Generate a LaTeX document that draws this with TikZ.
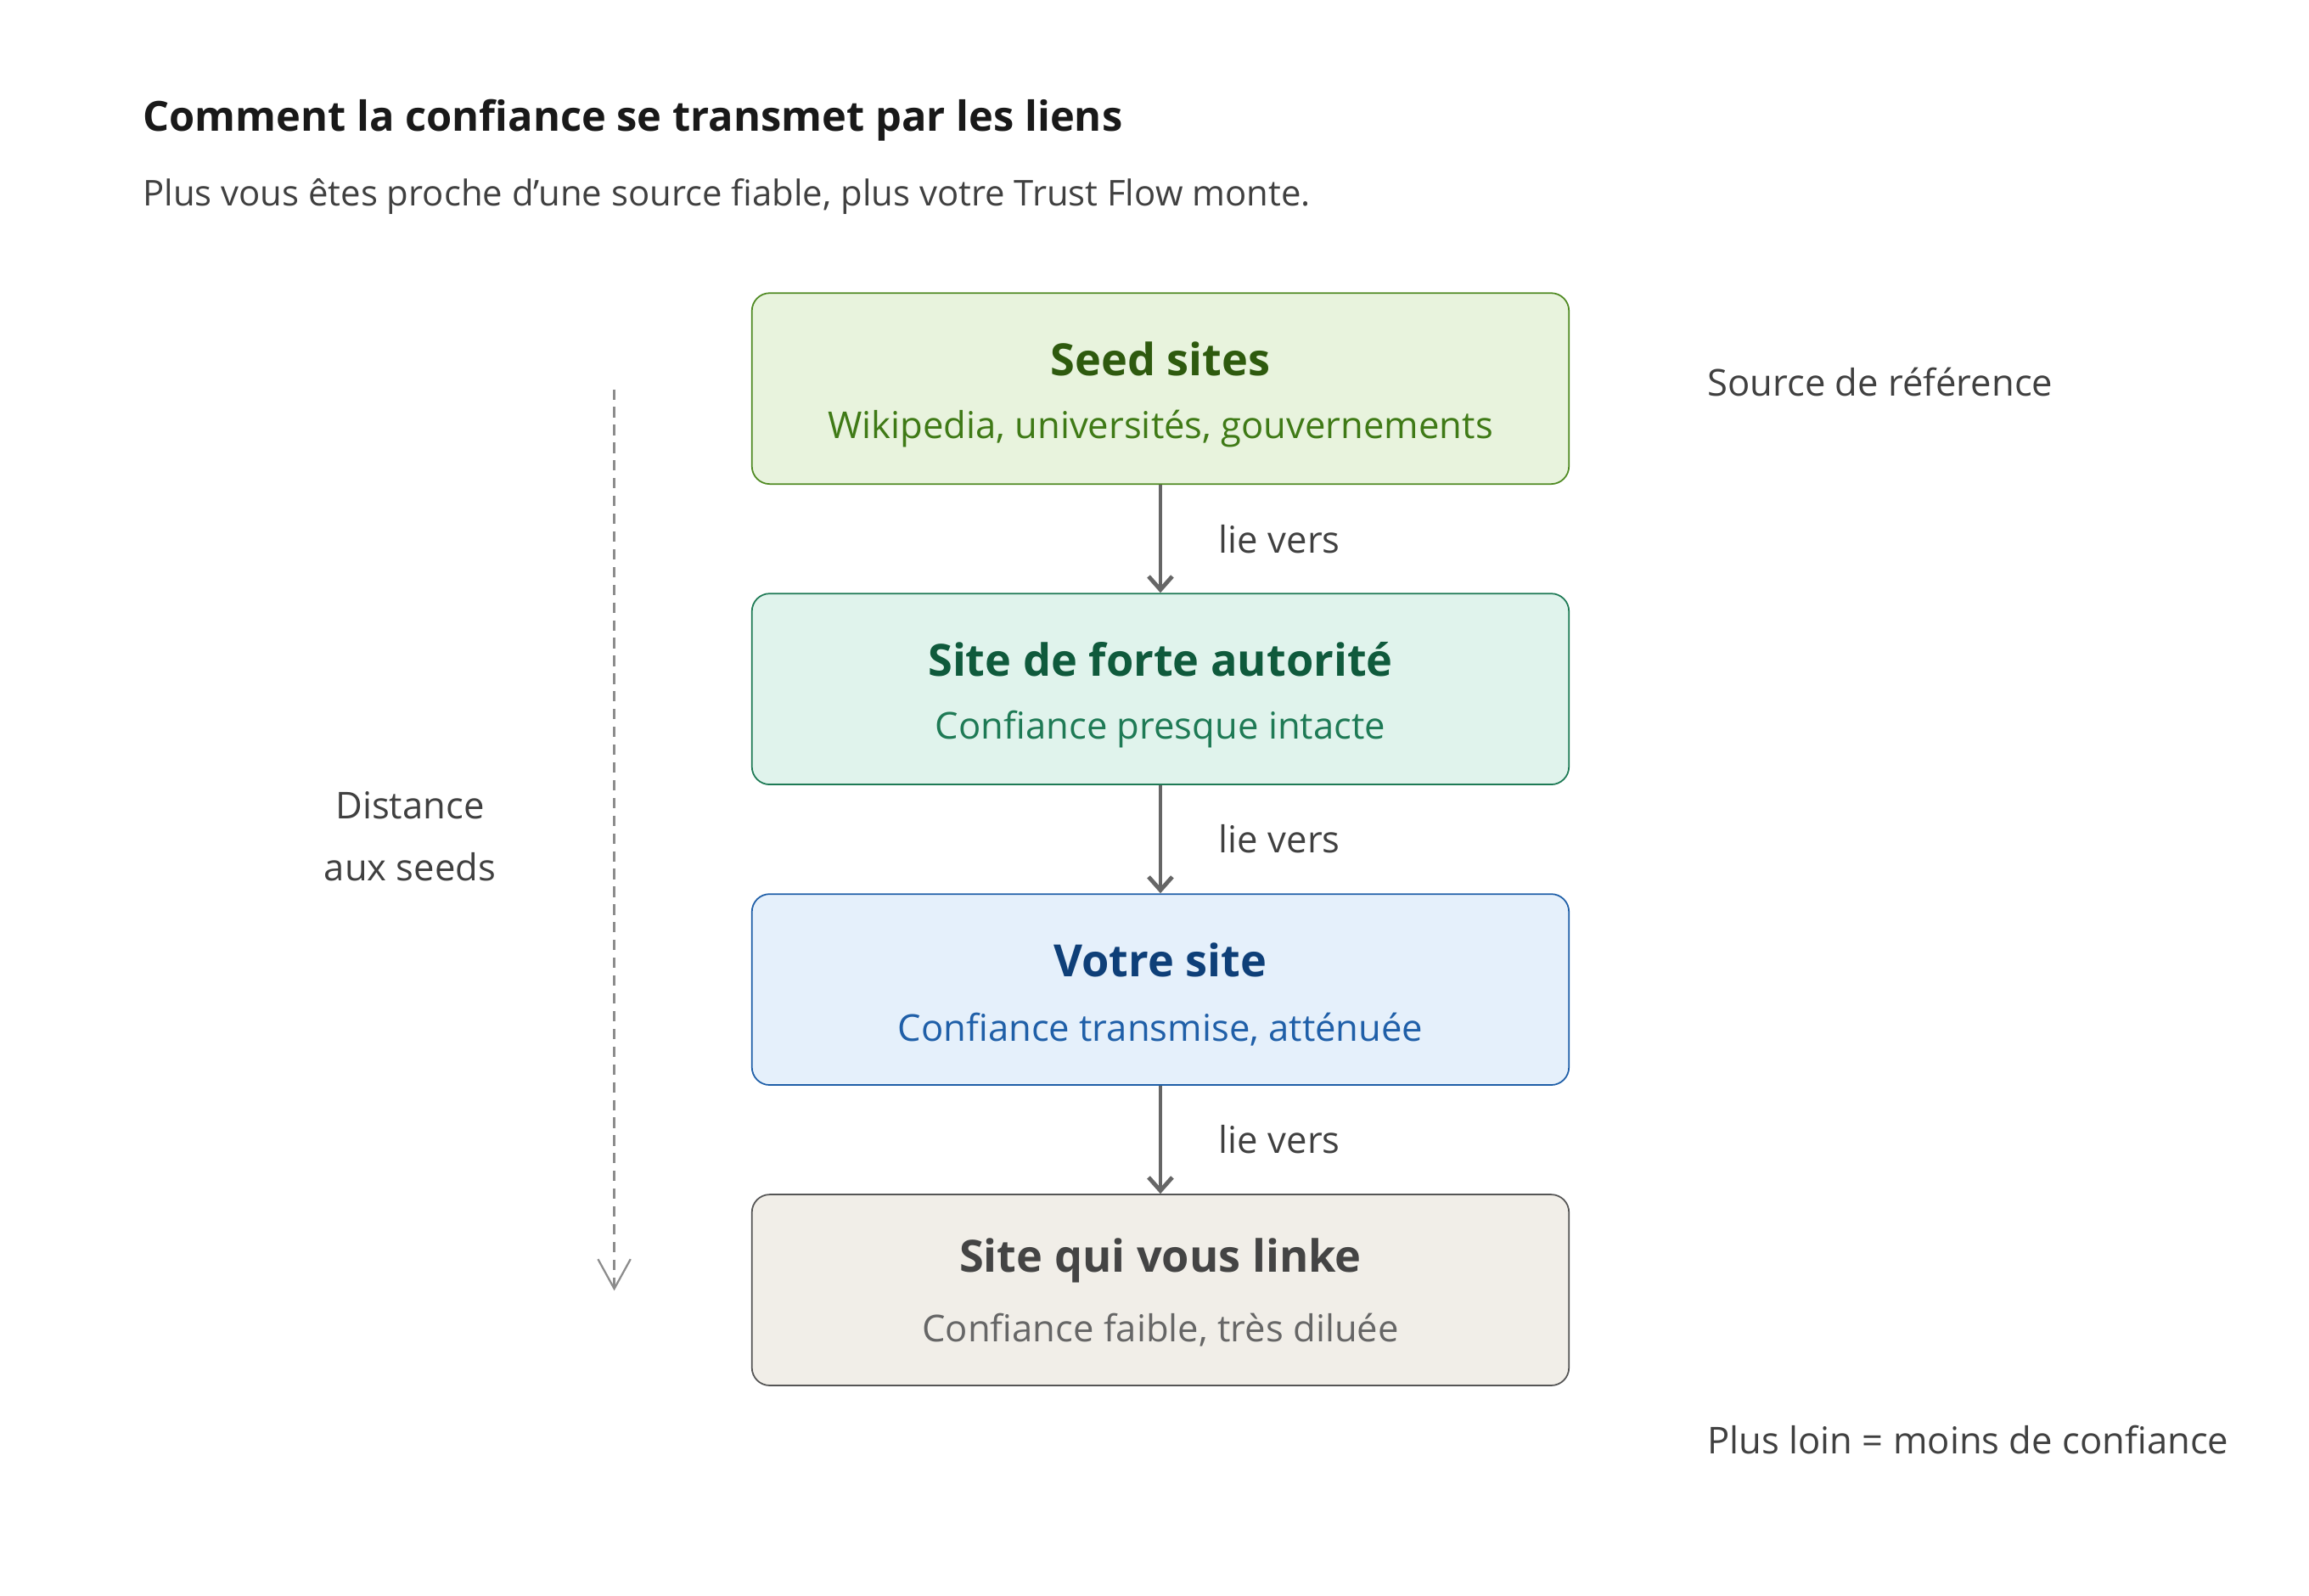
\documentclass[tikz,border=0pt]{standalone}
\usepackage{fontspec}
\setmainfont{Open Sans}
\usetikzlibrary{arrows.meta}
\definecolor{gF}{HTML}{E8F3DD}\definecolor{gS}{HTML}{4F8A22}\definecolor{gT}{HTML}{2E5A0E}\definecolor{gU}{HTML}{3F7A16}
\definecolor{tF}{HTML}{E0F3EC}\definecolor{tS}{HTML}{1E7A55}\definecolor{tT}{HTML}{0F5A3C}\definecolor{tU}{HTML}{1E7A55}
\definecolor{bF}{HTML}{E5F0FB}\definecolor{bS}{HTML}{1F5FA8}\definecolor{bT}{HTML}{0E3F78}\definecolor{bU}{HTML}{1F5FA8}
\definecolor{eF}{HTML}{F1EEE8}\definecolor{eS}{HTML}{555555}\definecolor{eT}{HTML}{444444}\definecolor{eU}{HTML}{666666}
\begin{document}
\begin{tikzpicture}[x=1pt,y=-1pt,
 box/.style={draw=#1S,fill=#1F,line width=1pt,rounded corners=12pt,minimum width=552pt,minimum height=129pt,inner sep=0pt},
 bt/.style={font=\fontsize{30}{36}\selectfont\bfseries},
 bs/.style={font=\fontsize{25}{30}\selectfont},
 lab/.style={font=\fontsize{25}{30}\selectfont,text=black!75,anchor=west},
 arr/.style={draw=black!60,line width=2.8pt,-{Straight Barb[length=9pt,width=16pt,line width=2.8pt]}}]
\useasboundingbox (0,0) rectangle (1560,1078);
\node[anchor=west,font=\fontsize{28}{34}\selectfont\bfseries,text=black!90] (title) at (93,81) {Comment la confiance se transmet par les liens};
\node[anchor=west,font=\fontsize{24}{30}\selectfont,text=black!75] (sub) at (93,133) {Plus vous êtes proche d'une source fiable, plus votre Trust Flow monte.};
\foreach \n/\c/\y/\t/\s in {a/g/262.5/Seed sites/{Wikipedia, universités, gouvernements},
 b/t/465.5/Site de forte autorité/Confiance presque intacte,
 c/b/668.5/Votre site/{Confiance transmise, atténuée},
 d/e/871.5/Site qui vous linke/{Confiance faible, très diluée}}{
 \node[box=\c] (\n) at (784,\y) {};
 \node[bt,text=\c T] (\n t) at (784,\y-20) {\t};
 \node[bs,text=\c U] (\n s) at (784,\y+27) {\s};
}
\draw[arr] (a.south) -- (b.north);
\draw[arr] (b.south) -- (c.north);
\draw[arr] (c.south) -- (d.north);
\node[lab] (l1) at (820,364) {lie vers};
\node[lab] (l2) at (820,567) {lie vers};
\node[lab] (l3) at (820,770) {lie vers};
\coordinate (ds) at (415,263); \coordinate (de) at (415,872);
\draw[draw=black!45,line width=1.3pt,dash pattern=on 7pt off 5pt,-{Straight Barb[length=20pt,width=22pt,line width=1.3pt]}] (ds) -- (de);
\node[align=center,font=\fontsize{25}{42}\selectfont,text=black!75] (dist) at (277,565) {Distance\\aux seeds};
\node[lab] (r1) at (1150,258) {Source de référence};
\node[lab] (r2) at (1150,973) {Plus loin = moins de confiance};
\end{tikzpicture}
\end{document}
